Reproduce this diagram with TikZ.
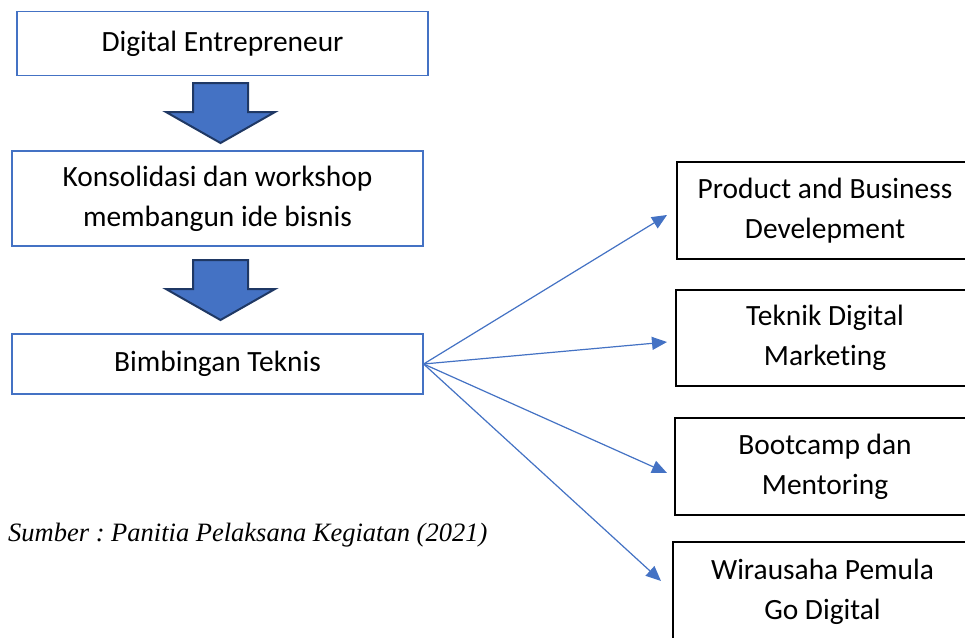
\documentclass[tikz,border=0pt]{standalone}
\usepackage{fontspec}
\setmainfont{Carlito}[Ligatures=NoCommon]
\newfontfamily\srcfont{Liberation Serif}
\usetikzlibrary{arrows.meta}
\definecolor{wordblue}{HTML}{4472C4}
\definecolor{darknavy}{HTML}{1F3864}
\frenchspacing

\begin{document}
\begin{tikzpicture}[x=1pt, y=-1pt,
    bluebox/.style = {draw=wordblue, line width=1.2pt, minimum width=411pt, inner sep=0pt, align=center, font=\fontsize{29.4}{40}\selectfont},
    blackbox/.style = {draw=black, line width=1.2pt, inner sep=0pt, align=center, font=\fontsize{29.4}{40}\selectfont},
    fan/.style = {draw=wordblue, line width=1.2pt, -{Triangle[length=15pt, width=13pt]}},
    blockarrow/.style = {fill=wordblue, draw=darknavy, line width=2pt, line join=miter}]
    \useasboundingbox (0,0) rectangle (965,637);
    \clip (0,0) rectangle (965,637);
    \fill[white] (0,0) rectangle (965,637);

    \node[bluebox, minimum height=64pt] (de) at (222.5, 43.5) {Digital Entrepreneur};
    \node[bluebox, minimum height=95pt] (kw) at (217.5, 198.5) {Konsolidasi dan workshop\\membangun ide bisnis};
    \node[bluebox, minimum height=60pt] (bt) at (217.5, 364) {Bimbingan Teknis};

    \foreach \t in {83, 260} {
        \draw[blockarrow] (193,\t) -- (248,\t) -- (248,{\t+29}) -- (275,{\t+29}) -- (220.5,{\t+60}) -- (166,{\t+29}) -- (193,{\t+29}) -- cycle;
    }

    \node[blackbox, minimum width=296pt, minimum height=97pt] (pb) at (825, 210.5) {Product and Business\\Develepment};
    \node[blackbox, minimum width=298pt, minimum height=96pt] (td) at (825, 338) {Teknik Digital\\Marketing};
    \node[blackbox, minimum width=300pt, minimum height=97pt] (bm) at (825, 466.5) {Bootcamp dan\\Mentoring};
    \node[blackbox, minimum width=299pt, minimum height=99pt] (wp) at (822.5, 591.5) {Wirausaha Pemula\\Go Digital};

    \coordinate (t1) at (667, 215);
    \coordinate (t2) at (667, 342);
    \coordinate (t3) at (667, 473);
    \coordinate (t4) at (661, 581);
    \foreach \c in {t1, t2, t3, t4}
        \draw[fan] (bt.east) -- (\c);

    \node[anchor=west, inner sep=0pt, font=\srcfont\itshape\fontsize{26.5}{30}\selectfont] (src) at (8, 535) {Sumber : Panitia Pelaksana Kegiatan (2021)};

\end{tikzpicture}
\end{document}
